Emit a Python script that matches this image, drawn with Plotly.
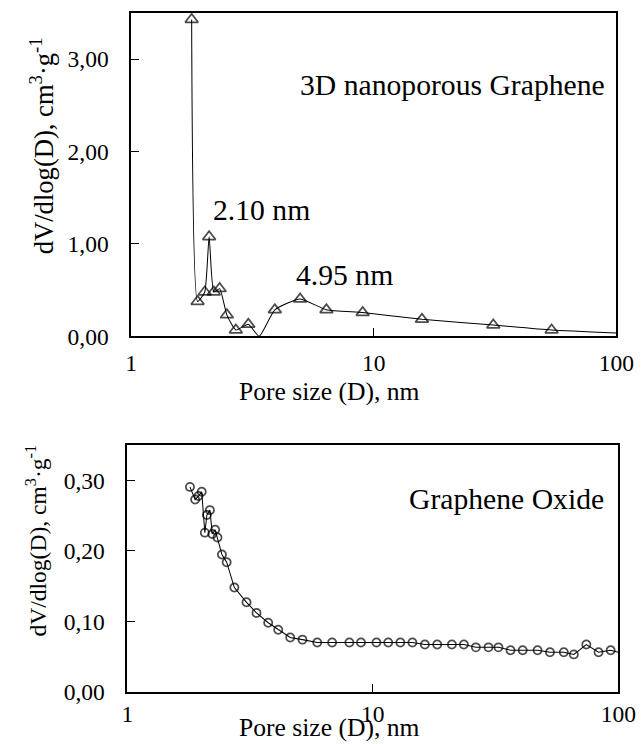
import plotly.graph_objects as go

# --- 3D nanoporous graphene (top) ---
pore_3d = [1.775, 1.878, 2.01, 2.095, 2.19, 2.315, 2.48, 2.70, 3.04, 3.37, 3.91, 4.97, 6.38, 9.0, 15.8, 31.1, 54.1, 100.0]
dv_3d = [3.43, 0.377, 0.48, 1.078, 0.48, 0.516, 0.232, 0.068, 0.13, 0.0, 0.287, 0.403, 0.287, 0.257, 0.184, 0.122, 0.068, 0.035]
marker_3d = [1, 1, 1, 1, 1, 1, 1, 1, 1, 0, 1, 1, 1, 1, 1, 1, 1, 0]

# --- Graphene oxide (bottom) ---
pore_go = [1.80, 1.89, 1.95, 2.01, 2.07, 2.11, 2.17, 2.22, 2.28, 2.33, 2.43, 2.54, 2.73, 3.06, 3.36,
           3.75, 4.12, 4.61, 5.17, 5.94, 6.83, 8.03, 8.95, 10.35, 11.56, 12.95, 14.5, 16.3, 18.3,
           21.0, 23.5, 26.3, 29.6, 32.5, 36.4, 40.8, 46.9, 52.7, 60.0, 65.9, 74.1, 83.1, 93.1, 100.0]
dv_go = [0.291, 0.273, 0.278, 0.284, 0.226, 0.251, 0.258, 0.224, 0.230, 0.219, 0.195, 0.184, 0.148,
         0.127, 0.112, 0.098, 0.088, 0.077, 0.074, 0.070, 0.070, 0.070, 0.070, 0.070, 0.070,
         0.070, 0.070, 0.067, 0.067, 0.067, 0.067, 0.063, 0.063, 0.063, 0.059, 0.059,
         0.059, 0.056, 0.056, 0.053, 0.067, 0.056, 0.059, 0.056]
marker_go = [1] * (len(pore_go) - 1) + [0]

x_ticks = [1, 10, 100]
x_ticktext = ["1", "10", "100"]
y_ticks_top = [0, 1, 2, 3]
y_ticktext_top = ["0,00", "1,00", "2,00", "3,00"]
y_ticks_bot = [0, 0.1, 0.2, 0.3]
y_ticktext_bot = ["0,00", "0,10", "0,20", "0,30"]

# reference frame (pixels of the target picture)
W, H = 641, 744
K = 656 / 641  # page scale factor
FONT = "Liberation Serif, Times New Roman, serif"

def s(v):
    return v * K

def si(v):
    return int(round(v * K))

fig = go.Figure()

fig.add_trace(go.Scatter(
    x=pore_3d, y=dv_3d, mode="lines+markers", xaxis="x", yaxis="y",
    line=dict(color="black", width=s(1), shape="spline", smoothing=0.5),
    marker=dict(symbol="triangle-up-open", size=[s(11) * m for m in marker_3d],
                color="black", line=dict(width=s(1.7), color="black")),
    showlegend=False, cliponaxis=True,
))
fig.add_trace(go.Scatter(
    x=pore_go, y=dv_go, mode="lines+markers", xaxis="x2", yaxis="y2",
    line=dict(color="black", width=s(1)),
    marker=dict(symbol="circle-open", size=[s(8) * m for m in marker_go],
                color="black", line=dict(width=s(1.7), color="black")),
    showlegend=False, cliponaxis=True,
))

def px_dom(a, b, total):
    return [a / total, b / total]

axis_common = dict(showline=True, linecolor="black", linewidth=s(1.5), mirror=True,
                   ticks="inside", ticklen=s(8), tickcolor="black", tickwidth=s(1),
                   showgrid=False, zeroline=False,
                   tickfont=dict(family=FONT, size=s(23), color="black"))

fig.update_layout(
    width=round(W * K), height=round(H * K),
    margin=dict(l=0, r=0, t=0, b=0),
    paper_bgcolor="white", plot_bgcolor="white",
    font=dict(family=FONT, color="black"),
    xaxis=dict(type="log", range=[0, 2], domain=px_dom(127, 619, W), anchor="y",
               tickvals=x_ticks, ticktext=x_ticktext, ticklabelstandoff=si(5), **axis_common),
    yaxis=dict(range=[0, 3.5], domain=[1 - 334.5 / H, 1 - 13 / H], anchor="x",
               tickvals=y_ticks_top, ticktext=y_ticktext_top, ticklabelstandoff=si(16), **axis_common),
    xaxis2=dict(type="log", range=[0, 2], domain=px_dom(123, 621, W), anchor="y2",
                tickvals=x_ticks, ticktext=x_ticktext, ticklabelstandoff=0, **axis_common),
    yaxis2=dict(range=[0, 0.35], domain=[1 - 688 / H, 1 - 443 / H], anchor="x2",
                tickvals=y_ticks_bot, ticktext=y_ticktext_bot, ticklabelstandoff=si(16), **axis_common),
)

def ann(text, xpx, ypx, size, angle=0):
    fig.add_annotation(text=text, x=xpx / W, y=1 - ypx / H, xref="paper", yref="paper",
                       showarrow=False, textangle=angle, xanchor="center", yanchor="middle",
                       font=dict(family=FONT, size=s(size), color="black"))

ann("3D nanoporous Graphene", 453, 85, 29)
ann("2.10 nm", 259, 209, 29)
ann("4.95 nm", 343, 274, 29)
ann("Pore size (D), nm", 328, 389, 25)
ann("dV/dlog(D), cm<sup>3</sup>·g<sup>-1</sup>", 36, 145, 26, angle=-90)

ann("Graphene Oxide", 508, 496, 29)
ann("Pore size (D), nm", 328, 724, 25)
ann("dV/dlog(D), cm<sup>3</sup>·g<sup>-1</sup>", 30, 538, 23, angle=-90)

fig.write_html("out.html")
